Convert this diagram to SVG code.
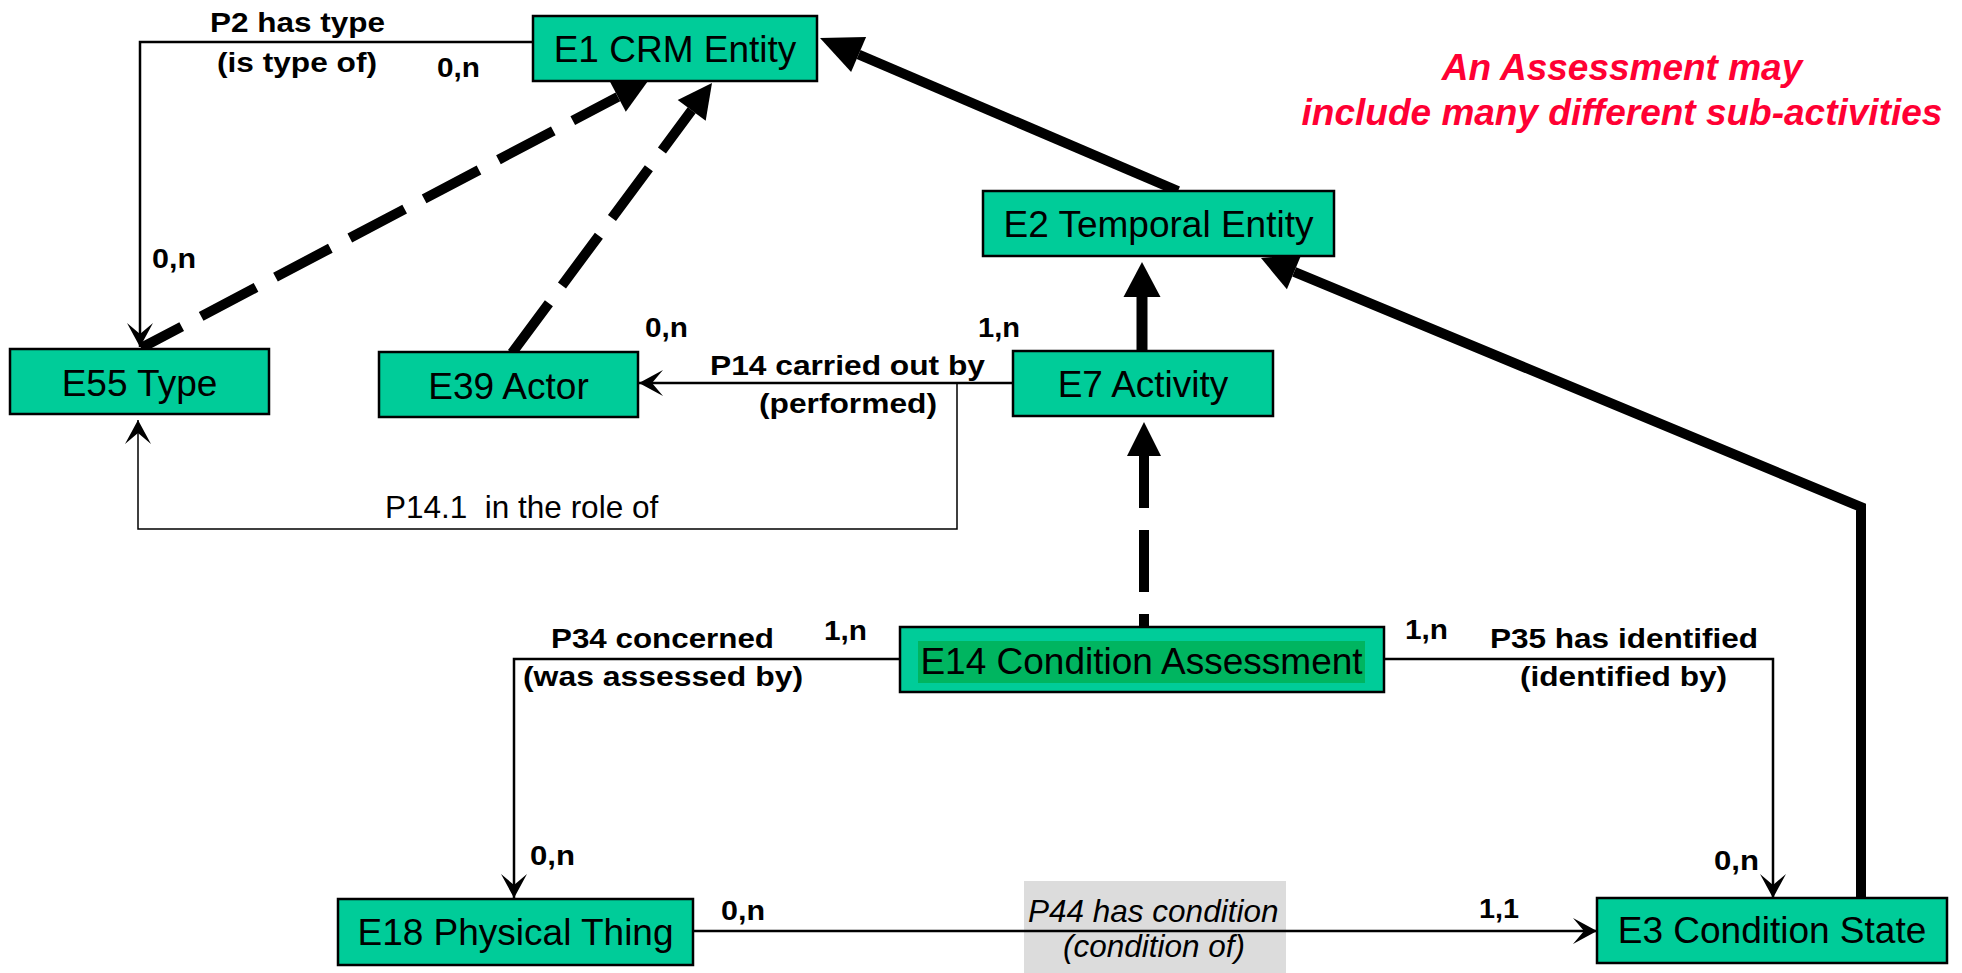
<svg xmlns="http://www.w3.org/2000/svg" width="1962" height="973" viewBox="0 0 1962 973">
  <style>
    .node rect.box { fill: #00CC99; stroke: #000; stroke-width: 2.5; }
    .node text { font-family: "Liberation Sans", Arial, sans-serif; font-size: 37px; fill: #000; text-anchor: middle; }
    .thin { fill: none; stroke: #000; stroke-width: 2.5; marker-end: url(#barb); }
    .hair { fill: none; stroke: #000; stroke-width: 1.5; marker-end: url(#barb); }
    .thick { fill: none; stroke: #000; stroke-linejoin: miter; }
    .dash { fill: none; stroke: #000; stroke-width: 10; stroke-dasharray: 62 22; }
    .head { fill: #000; }
    .lbl { font-family: "Liberation Sans", Arial, sans-serif; font-size: 28px; font-weight: bold; fill: #000; }
    .lbl-n { font-family: "Liberation Sans", Arial, sans-serif; font-size: 31.5px; fill: #000; }
    .lbl-i { font-family: "Liberation Sans", Arial, sans-serif; font-size: 31.5px; font-style: italic; fill: #000; }
    .note { font-family: "Liberation Sans", Arial, sans-serif; font-size: 37px; font-weight: bold; font-style: italic; fill: #FF0033; text-anchor: middle; }
  </style>
  <defs>
    <!-- small barbed arrowhead for property links -->
    <marker id="barb" markerUnits="userSpaceOnUse" orient="auto" viewBox="-25 -14 26 28" refX="0" refY="0" markerWidth="26" markerHeight="28">
      <path d="M0,0 L-24,-13 L-13,0 L-24,13 Z" fill="#000"/>
    </marker>
  </defs>

  <rect width="1962" height="973" fill="#fff"/>

  <!-- label background for P44 -->
  <rect x="1024" y="881" width="262" height="92" fill="#DCDCDC"/>

  <g id="connectors">
    <!-- IsA links (thick) -->
    <path class="thick" stroke-width="10" d="M1178,191 L858.6,54.5"/>
    <polygon class="head" points="820,38 866.1,37 851.1,72"/>

    <path class="thick" stroke-width="10" d="M1861,898 V507 L1294.2,271.8"/>
    <polygon class="head" points="1261,258 1301.5,254.3 1286.9,289.3"/>

    <path class="thick" stroke-width="11" d="M1142,351 V297"/>
    <polygon class="head" points="1142,262 1160.5,297 1123.5,297"/>

    <!-- dashed IsA links -->
    <path class="dash" stroke-width="11" stroke-dasharray="59 25" stroke-dashoffset="49" d="M1144,627 V456"/>
    <polygon class="head" points="1144,422 1161,456 1127,456"/>

    <path class="dash" stroke-dashoffset="16" d="M141,348 L617.9,96.8"/>
    <polygon class="head" points="648,81 625.8,111.8 610,81.8"/>

    <path class="dash" d="M512,353 L691.7,110.3"/>
    <polygon class="head" points="712,83 705.7,120.7 677.7,99.9"/>

    <!-- property links -->
    <path class="thin" d="M533,42 H140 V347"/>
    <path class="thin" stroke-width="3" d="M1013,383 H639"/>
    <path class="hair" d="M957,383 V529 H138 V420"/>
    <path class="thin" d="M899,659 H514 V898"/>
    <path class="thin" d="M1383,659 H1773 V898"/>
    <path class="thin" stroke-width="3" d="M693,931 H1597"/>
  </g>

  <g id="E1" class="node">
    <rect class="box" x="533" y="16" width="284" height="65"/>
    <text x="675" y="62">E1 CRM Entity</text>
  </g>
  <g id="E55" class="node">
    <rect class="box" x="10" y="349" width="259" height="65"/>
    <text x="139.5" y="396">E55 Type</text>
  </g>
  <g id="E39" class="node">
    <rect class="box" x="379" y="352" width="259" height="65"/>
    <text x="508.5" y="399">E39 Actor</text>
  </g>
  <g id="E2" class="node">
    <rect class="box" x="983" y="191" width="351" height="65"/>
    <text x="1158.5" y="237">E2 Temporal Entity</text>
  </g>
  <g id="E7" class="node">
    <rect class="box" x="1013" y="351" width="260" height="65"/>
    <text x="1143" y="397">E7 Activity</text>
  </g>
  <g id="E14" class="node">
    <rect class="box" x="900" y="627" width="484" height="65"/>
    <rect x="918" y="641" width="447" height="42" fill="#00B560"/>
    <text x="1141.5" y="674">E14 Condition Assessment</text>
  </g>
  <g id="E18" class="node">
    <rect class="box" x="338" y="899" width="355" height="66"/>
    <text x="515.5" y="945">E18 Physical Thing</text>
  </g>
  <g id="E3" class="node">
    <rect class="box" x="1597" y="898" width="350" height="65"/>
    <text x="1772" y="943">E3 Condition State</text>
  </g>

  <g id="labels">
    <text class="lbl" x="210" y="32" textLength="175" lengthAdjust="spacingAndGlyphs">P2 has type</text>
    <text class="lbl" x="217" y="72" textLength="160" lengthAdjust="spacingAndGlyphs">(is type of)</text>
    <text class="lbl" x="437" y="77" textLength="43" lengthAdjust="spacingAndGlyphs">0,n</text>
    <text class="lbl" x="152" y="268" textLength="44" lengthAdjust="spacingAndGlyphs">0,n</text>
    <text class="lbl" x="645" y="337" textLength="43" lengthAdjust="spacingAndGlyphs">0,n</text>
    <text class="lbl" x="978" y="337" textLength="42" lengthAdjust="spacingAndGlyphs">1,n</text>
    <text class="lbl" x="710" y="375" textLength="275" lengthAdjust="spacingAndGlyphs">P14 carried out by</text>
    <text class="lbl" x="759" y="413" textLength="178" lengthAdjust="spacingAndGlyphs">(performed)</text>
    <text class="lbl-n" x="385" y="518" xml:space="preserve">P14.1  in the role of</text>
    <text class="lbl" x="551" y="648" textLength="223" lengthAdjust="spacingAndGlyphs">P34 concerned</text>
    <text class="lbl" x="523" y="686" textLength="280" lengthAdjust="spacingAndGlyphs">(was assessed by)</text>
    <text class="lbl" x="824" y="640" textLength="43" lengthAdjust="spacingAndGlyphs">1,n</text>
    <text class="lbl" x="1405" y="639" textLength="43" lengthAdjust="spacingAndGlyphs">1,n</text>
    <text class="lbl" x="1490" y="648" textLength="268" lengthAdjust="spacingAndGlyphs">P35 has identified</text>
    <text class="lbl" x="1520" y="686" textLength="207" lengthAdjust="spacingAndGlyphs">(identified by)</text>
    <text class="lbl" x="530" y="865" textLength="45" lengthAdjust="spacingAndGlyphs">0,n</text>
    <text class="lbl" x="721" y="920" textLength="44" lengthAdjust="spacingAndGlyphs">0,n</text>
    <text class="lbl" x="1479" y="918" textLength="40" lengthAdjust="spacingAndGlyphs">1,1</text>
    <text class="lbl" x="1714" y="870" textLength="45" lengthAdjust="spacingAndGlyphs">0,n</text>
    <text class="lbl-i" x="1028" y="922">P44 has condition</text>
    <text class="lbl-i" x="1063" y="957">(condition of)</text>
  </g>

  <g id="note">
    <text class="note" x="1622" y="80">An Assessment may</text>
    <text class="note" x="1622" y="125">include many different sub-activities</text>
  </g>
</svg>
